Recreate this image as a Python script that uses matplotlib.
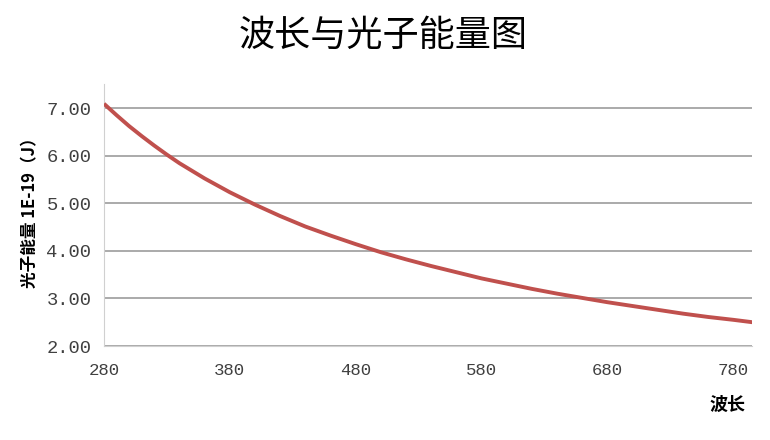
import matplotlib
matplotlib.use("Agg")
import matplotlib.pyplot as plt

plt.rcParams['font.family'] = ['Noto Sans CJK SC', 'DejaVu Sans']

wavelength = [280, 290, 300, 310, 320, 330, 340, 350, 360, 380, 400, 420, 440, 460, 480,
              500, 520, 540, 560, 580, 600, 620, 640, 660, 680, 700, 720, 740, 760, 780, 795]
energy = [7.09, 6.85, 6.62, 6.41, 6.21, 6.02, 5.84, 5.68, 5.52, 5.23, 4.97, 4.73, 4.51,
          4.32, 4.14, 3.97, 3.82, 3.68, 3.55, 3.42, 3.31, 3.20, 3.10, 3.01, 2.92, 2.84,
          2.76, 2.68, 2.61, 2.55, 2.50]
x_ticks = [280, 380, 480, 580, 680, 780]
y_ticks = [2.0, 3.0, 4.0, 5.0, 6.0, 7.0]

fig = plt.figure(figsize=(7.7, 4.4), dpi=100)
ax = fig.add_axes([0.135, 0.2136, 0.842, 0.595])

ax.plot(wavelength, energy, color='#c0504d', lw=2.8, solid_capstyle='butt', zorder=3)
ax.set_xlim(280, 795)
ax.set_ylim(2.0, 7.5)
ax.set_xticks(x_ticks)
ax.set_yticks(y_ticks)
ax.set_yticklabels([f"{v:.2f}" for v in y_ticks])
ax.yaxis.grid(True, color='#9c9c9c', lw=1.2)
ax.set_axisbelow(True)
for s in ['top', 'right']:
    ax.spines[s].set_visible(False)
ax.spines['left'].set_color('#d0d0d0')
ax.spines['bottom'].set_color('#d0d0d0')
ax.tick_params(axis='y', length=0, labelsize=13.5, labelcolor='#404040', pad=9)
ax.tick_params(axis='x', length=0, labelsize=12.5, labelcolor='#404040', pad=12)
for lab in ax.get_xticklabels() + ax.get_yticklabels():
    lab.set_family(['Liberation Mono', 'DejaVu Sans'])

fig.text(0.497, 0.918, '波长与光子能量图', ha='center', va='center', fontsize=26)
fig.text(0.04, 0.525, '光子能量 1E-19（J）', rotation=90, ha='center', va='center',
         fontsize=12, fontweight='bold')
fig.text(0.945, 0.08, '波长', ha='center', va='center', fontsize=13, fontweight='bold')

fig.savefig('out.png', dpi=100, facecolor='white')
